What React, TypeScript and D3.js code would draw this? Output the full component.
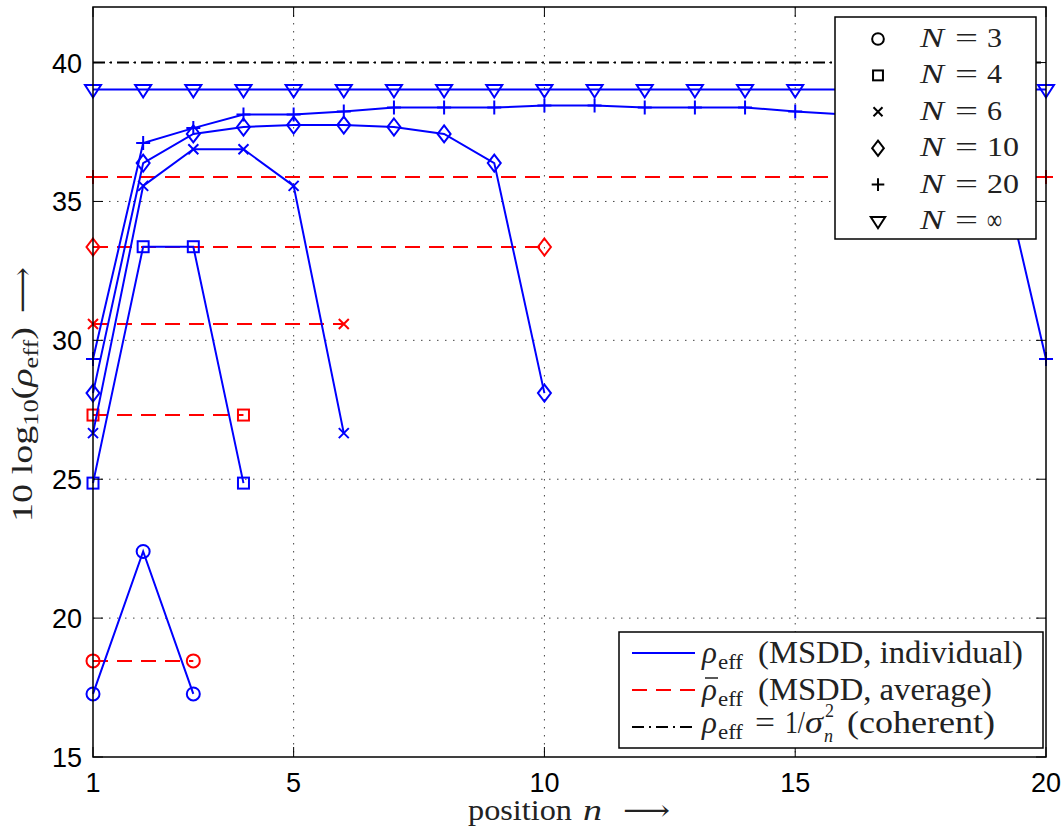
import React from "react";
import * as d3 from "d3";

// ---- data ----
const positions = [1, 2, 3, 4, 5, 6, 7, 8, 9, 10, 11, 12, 13, 14, 15, 16, 17, 18, 19, 20];
const N3 = [17.27, 22.4, 17.27];
const N4 = [24.86, 33.37, 33.37, 24.86];
const N6 = [26.66, 35.56, 36.88, 36.88, 35.56, 26.66];
const N10 = [28.1, 36.38, 37.43, 37.68, 37.75, 37.75, 37.68, 37.43, 36.38, 28.1];
const N20 = [29.33, 37.1, 37.64, 38.13, 38.13, 38.24, 38.38, 38.38, 38.38, 38.45,
  38.45, 38.38, 38.38, 38.38, 38.24, 38.13, 38.13, 37.64, 37.1, 29.33];
const NInf = [39.03, 39.03, 39.03, 39.03, 39.03, 39.03, 39.03, 39.03, 39.03, 39.03,
  39.03, 39.03, 39.03, 39.03, 39.03, 39.03, 39.03, 39.03, 39.03, 39.03];
const averages = [18.46, 27.31, 30.59, 33.36, 35.88];
const averageLengths = [3, 4, 6, 10, 20];
const coherent = 40;
const legendLabels = ["3", "4", "6", "10", "20", "∞"];
const markerTypes = ["circle", "square", "x", "diamond", "plus", "triangle"];
const xTicks = [1, 5, 10, 15, 20];
const yTicks = [15, 20, 25, 30, 35, 40];

const BLUE = "#0000ff";
const RED = "#ff0000";
const SERIF = "'Liberation Serif', 'DejaVu Serif', serif";
const SANS = "'Liberation Sans', Arial, sans-serif";
const TXT = "#222";

const W = 1064, H = 827;
const left = 93, right = 1046, top = 7, bottom = 757;

const x = d3.scaleLinear().domain([1, 20]).range([left, right]);
const y = d3.scaleLinear().domain([15, 42]).range([bottom, top]);

function Marker({ type, cx, cy, color, k = 1 }: { type: string; cx: number; cy: number; color: string; k?: number }) {
  const p = { fill: "none", stroke: color, strokeWidth: 2 };
  switch (type) {
    case "circle":
      return <circle cx={cx} cy={cy} r={6.5 * k} {...p} />;
    case "square":
      return <rect x={cx - 5.5 * k} y={cy - 5.5 * k} width={11 * k} height={11 * k} {...p} />;
    case "x":
      return <path d={`M${cx - 5 * k},${cy - 5 * k}L${cx + 5 * k},${cy + 5 * k}M${cx - 5 * k},${cy + 5 * k}L${cx + 5 * k},${cy - 5 * k}`} {...p} />;
    case "diamond":
      return <path d={`M${cx},${cy - 8.5 * k}L${cx + 6.5 * k},${cy}L${cx},${cy + 8.5 * k}L${cx - 6.5 * k},${cy}Z`} {...p} />;
    case "plus":
      return <path d={`M${cx - 7 * k},${cy}L${cx + 7 * k},${cy}M${cx},${cy - 7 * k}L${cx},${cy + 7 * k}`} {...p} />;
    case "triangle":
      return <path d={`M${cx - 8 * k},${cy - 4.5 * k}L${cx + 8 * k},${cy - 4.5 * k}L${cx},${cy + 8 * k}Z`} {...p} />;
  }
  return null;
}

export default function App() {
  const series = [N3, N4, N6, N10, N20, NInf];
  const line = d3.line<number>().x((_, i) => x(positions[i])).y((v) => y(v));
  const adj = "spacingAndGlyphs";

  return (
    <svg width={W} height={H} style={{ position: "absolute", left: 0, top: 0, background: "#fff" }}>
      <rect x={0} y={0} width={W} height={H} fill="#fff" />
      {/* grid */}
      {xTicks.filter((t) => t !== 1 && t !== 20).map((t) => (
        <line key={"gx" + t} x1={x(t)} x2={x(t)} y1={top} y2={bottom} stroke="#444" strokeWidth={1} strokeDasharray="1.5,6.5" />
      ))}
      {yTicks.filter((t) => t !== 15).map((t) => (
        <line key={"gy" + t} x1={left} x2={right} y1={y(t)} y2={y(t)} stroke="#444" strokeWidth={1} strokeDasharray="1.5,6.5" />
      ))}
      {/* averages */}
      {averages.map((a, i) => (
        <g key={"avg" + i}>
          <line x1={x(1)} x2={x(averageLengths[i])} y1={y(a)} y2={y(a)} stroke={RED} strokeWidth={2} strokeDasharray="15,9" />
          <Marker type={markerTypes[i]} cx={x(1)} cy={y(a)} color={RED} />
          <Marker type={markerTypes[i]} cx={x(averageLengths[i])} cy={y(a)} color={RED} />
        </g>
      ))}
      {/* coherent */}
      <line x1={left} x2={right} y1={y(coherent)} y2={y(coherent)} stroke="#000" strokeWidth={2} strokeDasharray="12,5,2,5" />
      {/* individual */}
      {series.map((s, i) => (
        <g key={"s" + i}>
          <path d={line(s) || ""} fill="none" stroke={BLUE} strokeWidth={2} />
          {s.map((v, j) => (
            <Marker key={j} type={markerTypes[i]} cx={x(positions[j])} cy={y(v)} color={BLUE} />
          ))}
        </g>
      ))}
      {/* axes box + ticks */}
      <rect x={left} y={top} width={right - left} height={bottom - top} fill="none" stroke="#000" strokeWidth={1.5} />
      {xTicks.map((t) => (
        <g key={"tx" + t}>
          <line x1={x(t)} x2={x(t)} y1={bottom} y2={bottom - 10} stroke="#000" strokeWidth={1} />
          <line x1={x(t)} x2={x(t)} y1={top} y2={top + 10} stroke="#000" strokeWidth={1} />
          <text x={x(t)} y={792} textAnchor="middle" fontFamily={SANS} fontSize={27}>{t}</text>
        </g>
      ))}
      {yTicks.map((t) => (
        <g key={"ty" + t}>
          <line x1={left} x2={left + 10} y1={y(t)} y2={y(t)} stroke="#000" strokeWidth={1} />
          <line x1={right} x2={right - 10} y1={y(t)} y2={y(t)} stroke="#000" strokeWidth={1} />
          <text x={82} y={y(t) + 10} textAnchor="end" fontFamily={SANS} fontSize={27}>{t}</text>
        </g>
      ))}
      {/* x axis label */}
      <g fontFamily={SERIF} fontSize={29} fill={TXT}>
        <text x={468} y={820} textLength={104} lengthAdjust={adj}>position</text>
        <text x={583} y={820} fontStyle="italic" textLength={19} lengthAdjust={adj}>n</text>
        <text x={623} y={820} textLength={47} lengthAdjust={adj}>⟶</text>
      </g>
      {/* y axis label */}
      <g transform="translate(32,522) rotate(-90)" fontFamily={SERIF} fontSize={29} fill={TXT}>
        <text x={0} y={0} textLength={195} lengthAdjust={adj}>
          10 log<tspan fontSize={20} dy={6}>10</tspan><tspan dy={-6}>(</tspan><tspan fontStyle="italic">ρ</tspan><tspan fontSize={20} dy={6}>eff</tspan><tspan dy={-6}>)</tspan>
        </text>
        <text x={209} y={0} textLength={46} lengthAdjust={adj}>⟶</text>
      </g>
      {/* legend N */}
      <rect x={835} y={17} width={201} height={222} fill="#fff" stroke="#000" strokeWidth={1.5} />
      {legendLabels.map((l, i) => {
        const cy = 39 + i * 36.4;
        return (
          <g key={"lg" + i} fontFamily={SERIF} fontSize={28} fill={TXT}>
            <Marker type={markerTypes[i]} cx={878} cy={cy} color="#000" k={0.9} />
            <text x={920} y={cy + 8} fontStyle="italic" textLength={24} lengthAdjust={adj}>N</text>
            <text x={955} y={cy + 8} textLength={23} lengthAdjust={adj}>=</text>
            <text x={987} y={cy + 8} textLength={l.length === 1 ? 15 : 32} lengthAdjust={adj}>{l}</text>
          </g>
        );
      })}
      {/* legend lines */}
      <rect x={619} y={632} width={424} height={116} fill="#fff" stroke="#000" strokeWidth={1.5} />
      <line x1={632} x2={695} y1={653} y2={653} stroke={BLUE} strokeWidth={2} />
      <line x1={632} x2={695} y1={690} y2={690} stroke={RED} strokeWidth={2} strokeDasharray="15,9" />
      <line x1={632} x2={695} y1={727} y2={727} stroke="#000" strokeWidth={2} strokeDasharray="12,5,2,5" />
      <g fontFamily={SERIF} fontSize={31} fill={TXT}>
        {/* row 1 */}
        <text x={702} y={663} fontStyle="italic">ρ</text>
        <text x={718} y={669} fontSize={20} textLength={25} lengthAdjust={adj}>eff</text>
        <text x={758} y={663} textLength={265} lengthAdjust={adj}>(MSDD, individual)</text>
        {/* row 2 */}
        <text x={702} y={700} fontStyle="italic">ρ</text>
        <line x1={705} x2={718} y1={678} y2={678} stroke={TXT} strokeWidth={1.5} />
        <text x={718} y={706} fontSize={20} textLength={25} lengthAdjust={adj}>eff</text>
        <text x={758} y={700} textLength={234} lengthAdjust={adj}>(MSDD, average)</text>
        {/* row 3 */}
        <text x={702} y={733} fontStyle="italic">ρ</text>
        <text x={718} y={739} fontSize={20} textLength={25} lengthAdjust={adj}>eff</text>
        <text x={755} y={733} textLength={20} lengthAdjust={adj}>=</text>
        <text x={785} y={733} textLength={20} lengthAdjust={adj}>1/</text>
        <text x={805} y={733} fontStyle="italic" textLength={18} lengthAdjust={adj}>σ</text>
        <text x={825} y={717} fontSize={18}>2</text>
        <text x={824} y={742} fontSize={18} fontStyle="italic">n</text>
        <text x={847} y={733} textLength={148} lengthAdjust={adj}>(coherent)</text>
      </g>
    </svg>
  );
}
